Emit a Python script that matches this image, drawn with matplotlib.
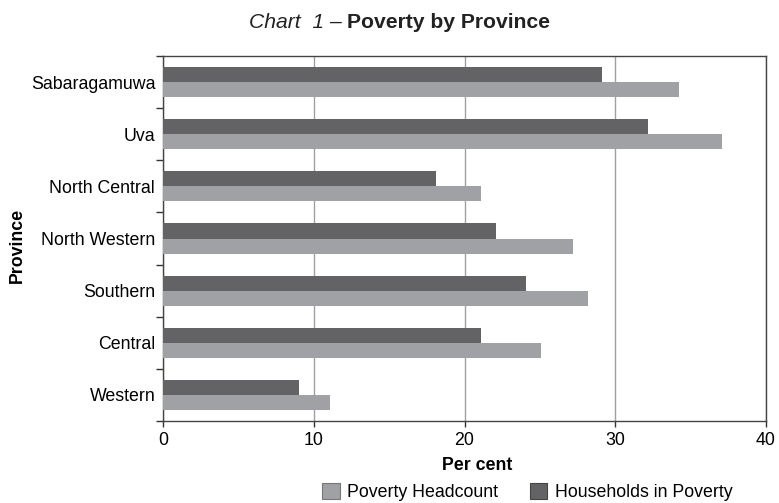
import matplotlib
matplotlib.use('Agg')
import matplotlib.pyplot as plt
import numpy as np
from matplotlib.patches import Patch

plt.rcParams['font.family'] = ['Liberation Sans', 'DejaVu Sans']

# provinces listed bottom to top
provinces = ['Western', 'Central', 'Southern', 'North Western',
             'North Central', 'Uva', 'Sabaragamuwa']
headcount = [11.1, 25.1, 28.2, 27.2, 21.1, 37.1, 34.2]
households = [9.0, 21.1, 24.1, 22.1, 18.1, 32.2, 29.1]

light = '#a0a1a5'
dark = '#636366'
fs = 12.8

fig = plt.figure(figsize=(7.79, 5.03), dpi=100)
ax = fig.add_axes([163/779, 1 - 421/503, 603/779, 365/503])

y = np.arange(len(provinces))
h = 0.29
ax.barh(y + h/2, households, height=h, color=dark, zorder=3)
ax.barh(y - h/2, headcount, height=h, color=light, zorder=3)

ax.set_xlim(0, 40)
ax.set_ylim(-0.5, len(provinces) - 0.5)
ax.set_xticks([0, 10, 20, 30, 40])
ax.tick_params(axis='x', labelsize=fs, length=4, width=1, color='#333333', pad=4)
ax.xaxis.grid(True, color='#a0a0a0', linewidth=1, zorder=0)

# labels sit at category centres, tick marks between categories
ax.set_yticks(np.arange(-0.5, len(provinces)), minor=False)
ax.set_yticklabels([])
ax.set_yticks(y, minor=True)
ax.set_yticklabels(provinces, minor=True)
ax.tick_params(axis='y', which='major', length=5, width=1, color='#333333')
ax.tick_params(axis='y', which='minor', length=0, labelsize=fs, pad=5.6)

for s in ax.spines.values():
    s.set_color('#444444')
    s.set_linewidth(1)

fig.text(477/779, 1 - 466/503, 'Per cent', ha='center', va='center',
         fontsize=fs, fontweight='bold')
fig.text(17/779, 1 - 245/503, 'Province', ha='center', va='center',
         rotation=90, fontsize=fs, fontweight='bold')

fig.text(342/779, 1 - 23/503, 'Chart  1 \u2013', ha='right', va='center',
         fontsize=15.2, fontstyle='italic', color='#222222')
fig.text(347/779, 1 - 23/503, 'Poverty by Province', ha='left', va='center',
         fontsize=15.2, fontweight='bold', color='#222222')

handles = [Patch(facecolor=light, edgecolor='#777777', linewidth=0.8),
           Patch(facecolor=dark, edgecolor='#444444', linewidth=0.8)]
fig.legend(handles, ['Poverty Headcount', 'Households in Poverty'],
           loc='center', bbox_to_anchor=(527/779, 1 - 492/503), ncol=2,
           frameon=False, fontsize=fs, handlelength=1.0, handleheight=1.0,
           handletextpad=0.4, columnspacing=1.8, borderpad=0)

fig.savefig('out.png', dpi=100)
